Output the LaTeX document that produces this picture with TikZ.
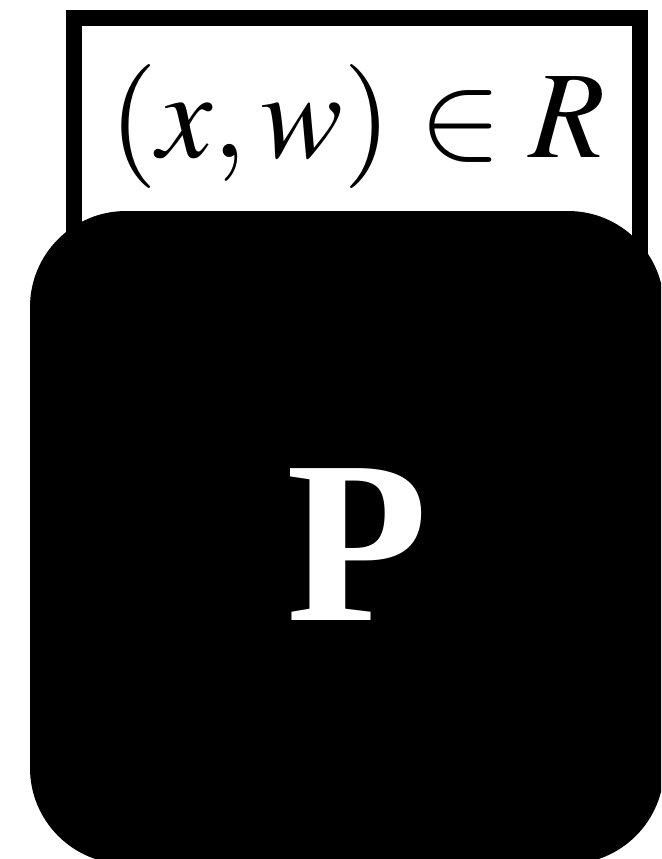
\documentclass[tikz,border=0pt]{standalone}
\usepackage{mathptmx}
\usepackage{fontspec}
\setmainfont{Liberation Serif}
\usepackage{tikz}
\usetikzlibrary{positioning}

\begin{document}
\begin{tikzpicture}[
  x=.5pt,y=-.5pt,
  relbox/.style={draw=black,line width=8pt,fill=white,inner sep=0pt,
    minimum width=283pt,minimum height=156pt},
  prover/.style={fill=black,rounded corners=48pt,inner sep=0pt,
    minimum width=317pt,minimum height=326.5pt},
  stmt/.style={anchor=base,inner sep=0pt,font=\fontsize{62}{74}\selectfont},
  plabel/.style={text=white,inner sep=0pt,
    font=\fontsize{116}{120}\selectfont\bfseries}
]
\useasboundingbox (0,0) rectangle (661,859);
\clip (0,0) rectangle (661,859);

\node[relbox] (box) at (357,174) {};
\node[prover] (party) at (347,537.5) {};

\node[stmt] (rel) at (357,157) {$(x,w)\in R$};
\node[plabel] (p) at (357,545) {P};
\end{tikzpicture}
\end{document}
